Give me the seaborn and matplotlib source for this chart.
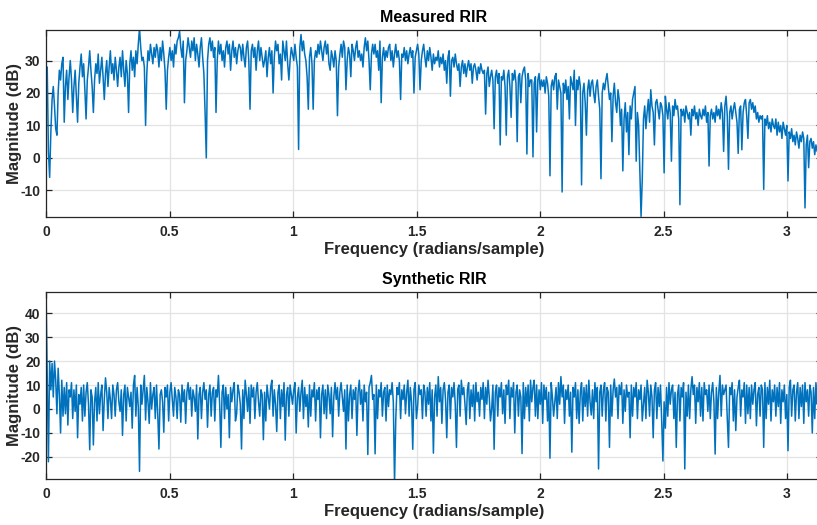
import numpy as np
import pandas as pd
import matplotlib
matplotlib.use("Agg")
import matplotlib.pyplot as plt
import seaborn as sns

# Magnitude responses (dB), 640 samples spread uniformly over 0..pi rad/sample
measured_db = [
    20, 28, 2, -6, 8, 18, 22, 16, 9, 7,
    20, 27, 24, 29, 31, 11, 22, 27, 18, 25,
    30, 24, 14, 22, 27, 19, 11, 23, 28, 32,
    25, 29, 21, 12, 24, 28, 33, 27, 22, 14,
    24, 29, 26, 32, 23, 27, 31, 25, 18, 26,
    30, 22, 28, 33, 26, 29, 24, 31, 27, 22,
    28, 31, 25, 33, 27, 22, 30, 26, 14, 29,
    33, 27, 31, 25, 33, 29, 35, 40, 34, 30,
    31, 28, 10, 26, 33, 30, 35, 32, 29, 34,
    31, 35, 33, 28, 34, 30, 36, 32, 27, 15,
    27, 31, 34, 30, 33, 28, 35, 32, 36, 37,
    39, 34, 31, 36, 17, 30, 33, 37, 34, 31,
    36, 33, 37, 30, 35, 32, 28, 34, 37, 31,
    26, 14, 0, 30, 35, 37, 33, 36, 31, 34,
    14, 30, 36, 32, 35, 30, 33, 28, 34, 36,
    32, 35, 27, 33, 36, 31, 34, 29, 33, 35,
    34, 30, 35, 31, 28, 34, 36, 30, 15, 33,
    35, 31, 34, 27, 33, 36, 30, 34, 31, 28,
    30, 33, 25, 31, 34, 29, 33, 20, 31, 36,
    33, 35, 29, 32, 24, 36, 33, 30, 36, 29,
    24, 30, 34, 32, 30, 35, 31, 28, 2.6, 34,
    38, 33, 36, 32, 30, 25, 15, 31, 34, 29,
    15, 30, 33, 31, 35, 32, 36, 33, 30, 34,
    36, 32, 35, 29, 27, 33, 31, 28, 33, 30,
    13, 28, 32, 35, 31, 36, 34, 21, 30, 34,
    32, 25, 35, 33, 30, 34, 36, 31, 33, 30,
    32, 28, 34, 37, 33, 36, 30, 21, 32, 35,
    32, 35, 31, 33, 27, 36, 17, 31, 34, 30,
    33, 31, 34, 35, 30, 33, 28, 32, 35, 31,
    33, 30, 18, 32, 31, 34, 30, 33, 29, 32,
    34, 31, 33, 20, 31, 33, 35, 32, 21, 30,
    33, 35, 31, 28, 33, 30, 34, 31, 27, 32,
    29, 31, 30, 33, 28, 31, 29, 32, 27, 30,
    23, 31, 33, 19, 30, 31, 28, 32, 29, 27,
    29, 22, 28, 30, 26, 29, 25, 28, 30, 27,
    29, 23, 28, 29, 27, 24, 28, 26, 29, 27,
    26, 27, 13.5, 26, 28, 22, 25, 27, 24, 9,
    25, 27, 23, 26, 4, 25, 24, 27, 22, 7,
    25, 27, 22, 12.5, 26, 24, 27, 23, 5, 25,
    26, 17, 25, 27, 28, 24, 1.2, 26, 22, 24,
    24, 0.3, 23, 25, 8, 24, 26, 21, 24, 22,
    24, 20, 25, 23, 19, -5.5, 22, 24, 21, 25,
    26, 15, 24, 22, 20, -10.5, 23, 20, 24, 18,
    22, 12, 25, 23, 21, 27, 10, 24, 21, 25,
    22, -8.3, 20, 23, 17, 7, 21, 24, 19, 23,
    24, 20, 17, 22, 24, 19, 15, -6.4, 20, 23,
    21, 24, 26, 22, 18, 20, 5, 19, 23, 17,
    14, 21, 18, 10, 15, -4, 12, 17, 8, 14,
    1, 16, 12, 18, 20, 22, -1, 14, 10, -4.6,
    -18, -6.6, 12, 16, 9, 14, 18, 11, 21, 16,
    14, 4, 17, 18, 15, 12, 17, 16, 13, -4.6,
    19, 15, 12, 17, 14, -1, 16, 13, 18, 15,
    16, 12, -14.4, 15, 13, 15, 11, 16, 14, 12,
    14, 7, 15, 13, 16, 12, 14, 10, 15, 13,
    12, 15, 13, 16, 11, 14, -2.5, 13, 15, 12,
    14, 11, 16, 13, 15, 12, 17, 14, 2, 16,
    19, 13, -3.5, 14, 16, 12, 15, 17, 14, 11,
    1.4, 15, 16, 2.5, 14, 17, 18, 13, 6, 17,
    18, 15, 17, 14, 16, 12, 14, 11, 13, 12,
    13, -9.7, 12, 10, 13, 9, 11, 8, 12, 10,
    9, 12, 7, 11, 8, 10, 6, 11, 9, 7,
    10, -7.1, 8, 6, 9, 5, 7, 4, 8, 6,
    3, 7, 5, 8, 6, -15.4, 4, 7, -3, 5,
    6, 3, 5, 1, 4, 2, 5, 3, 4, 2,
]

synthetic_db = [
    50, 14, -22, 20, 8, 19, 5, 20, 12, -2,
    17, 6, -10, 12, -3, 9, -2, 11, -6.7, 8,
    5, 11, -4, 8, -1, 10, -12, 6, 2, 9,
    -5, 10, -3, 7, 11, 2, -17, 8, 5, -15,
    3, 9, -5, 11, -2, 6, 10, -9, 4, 13,
    7, -4, 9, 4, -4, 10, 6, -3, 8, 11,
    3, -1, 8, -11, 6, 10, -5, 9, 5, 1,
    7, -8, 10, 14, -3, 9, 1, -26, 10, 2,
    8, 14, -4.6, 9, 3, -6, 11, 0, 6, 9,
    -4, 10, -2, -16.7, 6, 8, 3, -9.7, 9, 5,
    10, -5, 7, 11, 4, -3, 9, 5, -4, 8,
    6, -5.5, 10, 3, 8, -6, 7, 11, 4, 9,
    -3, 8, 5, -1, 10, -12.5, 6, 9, -4, 7,
    11, 4, 8, -7.6, 6, 10, -3, 7, 9, -5,
    8, 5, 14, 2, -16, 7, 10, -4, 9, 0,
    6, -12, 9, 3, 8, 11, -5, -2, 10, 7,
    2, -16.7, 8, -4, 12, 6, -1, 9, -6, 10,
    5, 9, -4, 7, 11, 3, -3, 8, 6, -12.8,
    7, -5, 10, 5, 0, 9, 12, -3, 8, 2,
    -9.4, 7, 10, -4, 8, 1, 11, -13, 6, 9,
    -3, 10, 6, 2, 8, 11, -10, 5, 9, -1,
    7, 12, -4, 9, 1, 6, -7.5, 10, -3, 8,
    5, 11, -5, 8, 4, 9, -12, 6, 10, -2,
    8, -4, 10, 6, -2, 9, -11.6, 5, 11, 4,
    9, -3, 7, 11, 5, -1, 8, -16.7, 10, -5,
    6, 10, -4, 8, 4, 9, -11, 7, 12, 2,
    8, -5, 10, 3, 7, -19, 9, 11, 14, 4,
    6, -18.7, 10, -4, 8, 5, 11, -3, 7, 9,
    -5, 10, 1, 8, 6, 11, 3, -31, -4.6, 9,
    6, 11, -4, 8, 4, 10, -2, 7, 12, -3,
    9, 3, -16.8, 8, 11, -4, 1, 10, 6, 8,
    -4, 10, 7, -3, 9, 2, 11, -5, 8, -18.4,
    5, 10, -3, 13.5, 3, 9, -6, 8, 11, 4,
    -12, 7, 10, -4, 9, 5, 11, 2, -16, 8,
    10, -3, 12, 6, 9, 2, -6.5, 8, 11, -4,
    8, 1, 10, -5, 11, 3, 7, -3, 9, 4,
    11, -4, 9, 2, 12, 5, -5, 0, 10, -16.8,
    7, 10, -3, 9, 5, 11, -2, 8, -6, 10,
    6, 12, -4, 9, 5, 11, -10, 7, 10, -3,
    8, 5, -18.6, 11, -4, 9, 1, 10, -5, 12,
    3, 9, 12, -3, 10, -4, 8, 2, 11, -6,
    10, 4, 9, -5, 7, -20.5, 11, 5, -3, 3,
    9, -4, 11, 2, 13.5, 5, 10, -6, 8, 4,
    10, -3, 7, -18, 9, 5, 11, -4, 8, -6,
    7, 11, -5, 9, 1, 10, -3, 12, 3, -2.5,
    8, -4, 11, 3, 9, -25, 7, 10, -3, 8,
    11, -5, 9, 7, -16, 10, -3, 8, 12.5, 5,
    9, -4, 10, 6, 11, -6, 8, -1, 10, 5,
    7, -12, 10, -3, 9, 5, 11, -4, 8, 4,
    10, -5, 2, 9, -4, 12, 7, -3, 10, 5,
    -12, 8, 11, -4, 9, 1, 10, -5, -21.7, 3,
    -8, 9, -3, 11, 2, 8, 10, -4, 7, -16,
    6, 10, -5, 9, 5, 11, -25, 7, -3, 10,
    -4, 8, 13.5, 6, 10, -6, 9, 3, 11, -3,
    9, -5, 11, 6, 8, -1, 10, -4, 7, 11,
    3, -18.8, 9, -4, 7, 14, -3, 10, 6, 8,
    10, -4, -16, 9, 6, 11, -5, 8, -9, 5,
    9, 12, -3, 8, 5, 11, -6, 10, -2, 9,
    -4, 10, 2, 8, 11, -7, 6, 9, -3, 10,
    8, -16, 11, -4, 9, 2, 12, -5, 8, 3,
    10, -3, 9, 1, 11, -6, 8, 3, 10, -4,
    6, -17.4, 9, 12, -3, 8, 10, -5, 7, 11,
    -4, 9, 1, 10, -6, 11, 3, 8, -3, 10,
    7, -10, 9, -4, 11, 2, 8, -5, 10, 4,
]

panel_titles = ["Measured RIR", "Synthetic RIR"]
x_ticks = [0, 0.5, 1, 1.5, 2, 2.5, 3]
x_tick_labels = ["0", "0.5", "1", "1.5", "2", "2.5", "3"]
y_ticks_measured = [-10, 0, 10, 20, 30]
y_ticks_synthetic = [-20, -10, 0, 10, 20, 30, 40]
y_limits = [(-18.2, 39.4), (-29.2, 48.8)]

sns.set_theme(style="whitegrid")
plt.rcParams["font.family"] = ["Liberation Sans", "DejaVu Sans"]
plt.rcParams["font.weight"] = "bold"

LINE = "#0072BD"
INK = "#262626"

fig = plt.figure(figsize=(8.17, 5.25), dpi=100)
W, H = 817.0, 525.0
ax_top = fig.add_axes([46 / W, 1 - 217 / H, 776 / W, 187 / H])
ax_bot = fig.add_axes([46 / W, 1 - 479 / H, 776 / W, 187 / H])

series = [measured_db, synthetic_db]
y_ticks = [y_ticks_measured, y_ticks_synthetic]

for ax, vals, title, yt, yl in zip([ax_top, ax_bot], series, panel_titles, y_ticks, y_limits):
    freq = np.linspace(0, np.pi, len(vals))
    df = pd.DataFrame({"freq": freq, "mag": vals})
    sns.lineplot(data=df, x="freq", y="mag", ax=ax, color=LINE, linewidth=1.1,
                 estimator=None, sort=False)
    ax.set_xlim(0, np.pi)
    ax.set_ylim(*yl)
    ax.set_xticks(x_ticks)
    ax.set_xticklabels(x_tick_labels)
    ax.set_yticks(yt)
    ax.set_yticklabels([str(v) for v in yt])
    ax.set_facecolor("white")
    ax.grid(True, color="#e3e3e3", linewidth=0.9)
    ax.set_axisbelow(True)
    for side in ["top", "bottom", "left", "right"]:
        ax.spines[side].set_visible(True)
        ax.spines[side].set_color(INK)
        ax.spines[side].set_linewidth(0.9)
    ax.tick_params(axis="both", direction="in", length=4.5, width=0.9, color=INK,
                   labelcolor=INK, labelsize=10, top=True, right=True,
                   bottom=True, left=True)
    ax.tick_params(axis="x", pad=6)
    ax.tick_params(axis="y", pad=4)
    for lab in ax.get_xticklabels() + ax.get_yticklabels():
        lab.set_fontweight("bold")
    ax.set_xlabel("Frequency (radians/sample)", fontsize=12, fontweight="bold",
                  color=INK, labelpad=2)
    ax.set_ylabel("Magnitude (dB)", fontsize=12, fontweight="bold", color=INK)
    ax.yaxis.set_label_coords(-0.031, 0.5)
    ax.set_title(title, fontsize=11.5, fontweight="bold", color="black", pad=6)

fig.savefig("out.png", dpi=100)
